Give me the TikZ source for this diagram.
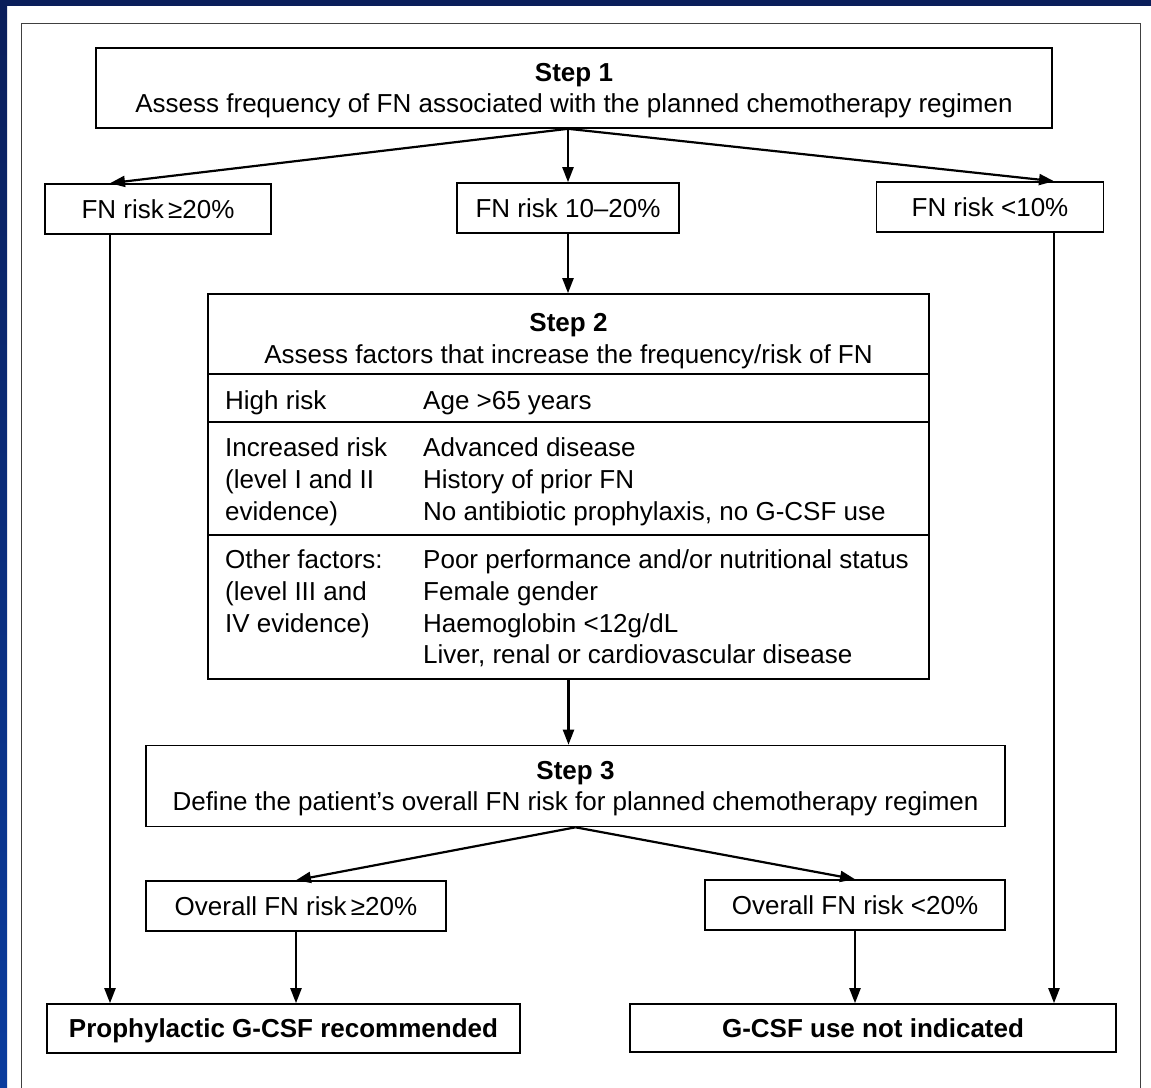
\documentclass[tikz,border=0pt]{standalone}
\usepackage{fontspec}
\setmainfont{Liberation Sans}
\usetikzlibrary{arrows.meta, calc}
\definecolor{navytop}{HTML}{0A1E5A}
\definecolor{navybot}{HTML}{0A3C9E}

\begin{document}
\begin{tikzpicture}[x=1pt, y=-1pt,
	box/.style={draw, line width=1.6pt, inner sep=0pt, align=center, text depth=0pt},
	arr/.style={line width=2.2pt, -{Triangle[length=15pt, width=11pt]}},
	cell/.style={anchor=west, align=left, inner sep=0pt, text depth=0pt},
	font=\fontsize{26}{31.7}\selectfont]
\useasboundingbox (0, 0) rectangle (1151, 1087);
\clip (0, 0) rectangle (1151, 1087);
\fill[white] (0, 0) rectangle (1151, 1087);
\fill[navytop] (0, 0) rectangle (1151, 6);
\shade[top color = navytop, bottom color = navybot] (0, 0) rectangle (7, 1087);
\draw[black!75, line width=1pt] (21, 1100) -- (21, 23) -- (1140, 23) -- (1140, 1100);
% step 1 and first split
\node[box, minimum width=956pt, minimum height=80pt] (step1) at (574, 88)
	{\textbf{Step 1}\\Assess frequency of FN associated with the planned chemotherapy regimen};
\node[box, minimum width=226pt, minimum height=50pt] (fnhigh) at (158, 209) {FN risk\,≥20\%};
\node[box, minimum width=222pt, minimum height=50pt] (fnmid) at (568, 208) {FN risk 10–20\%};
\node[box, minimum width=227pt, minimum height=50pt] (fnlow) at (990, 207) {FN risk <10\%};
% step 2 table
\node[box, minimum width=721pt, minimum height=385pt] (step2) at (568.5, 486.5) {};
\node[align=center, inner sep=0pt, text depth=0pt] (s2title) at (568.5, 338.5)
	{\textbf{Step 2}\\Assess factors that increase the frequency/risk of FN};
\draw[line width=1.6pt] ([yshift=-81pt]step2.north west) -- ([yshift=-81pt]step2.north east);
\draw[line width=1.6pt] ([yshift=-129pt]step2.north west) -- ([yshift=-129pt]step2.north east);
\draw[line width=1.6pt] ([yshift=-242pt]step2.north west) -- ([yshift=-242pt]step2.north east);
\node[cell] (hr) at (225, 400) {High risk};
\node[cell] (hrf) at (423, 400) {Age >65 years};
\node[cell] (ir) at (225, 479) {Increased risk\\(level I and II\\evidence)};
\node[cell] (irf) at (423, 479) {Advanced disease\\History of prior FN\\No antibiotic prophylaxis, no G-CSF use};
\node[cell] (of) at (225, 591) {Other factors:\\(level III and\\IV evidence)};
\node[cell] (off) at (423, 607) {Poor performance and/or nutritional status\\Female gender\\Haemoglobin <12g/dL\\Liver, renal or cardiovascular disease};
% step 3 and outcomes
\node[box, minimum width=859pt, minimum height=81pt] (step3) at (575.5, 786)
	{\textbf{Step 3}\\Define the patient's overall FN risk for planned chemotherapy regimen};
\node[box, minimum width=300pt, minimum height=50pt] (ovhigh) at (296, 906) {Overall FN risk\,≥20\%};
\node[box, minimum width=300pt, minimum height=50pt] (ovlow) at (855, 905) {Overall FN risk <20\%};
\node[box, minimum width=473pt, minimum height=49pt] (proph) at (283.5, 1028.5) {\textbf{Prophylactic G-CSF recommended}};
\node[box, minimum width=486pt, minimum height=48pt] (notind) at (873, 1028) {\textbf{G-CSF use not indicated}};
\coordinate (lcol) at (110, 0);
\coordinate (rcol) at (1054, 0);
% connectors
\draw[arr] (fnmid.north |- step1.south) -- (fnhigh.north -| lcol);
\draw[arr] (fnmid.north |- step1.south) -- (fnmid.north);
\draw[arr] (fnmid.north |- step1.south) -- (fnlow.north -| rcol);
\draw[arr] (fnmid.south) -- (fnmid.south |- step2.north);
\draw[arr] (fnhigh.south -| lcol) -- (proph.north -| lcol);
\draw[arr] (fnlow.south -| rcol) -- (notind.north -| rcol);
\draw[arr] (step2.south) -- (step2.south |- step3.north);
\draw[arr] (step3.south) -- (ovhigh.north);
\draw[arr] (step3.south) -- (ovlow.north);
\draw[arr] (ovhigh.south) -- (ovhigh.south |- proph.north);
\draw[arr] (ovlow.south) -- (ovlow.south |- notind.north);
\end{tikzpicture}
\end{document}
